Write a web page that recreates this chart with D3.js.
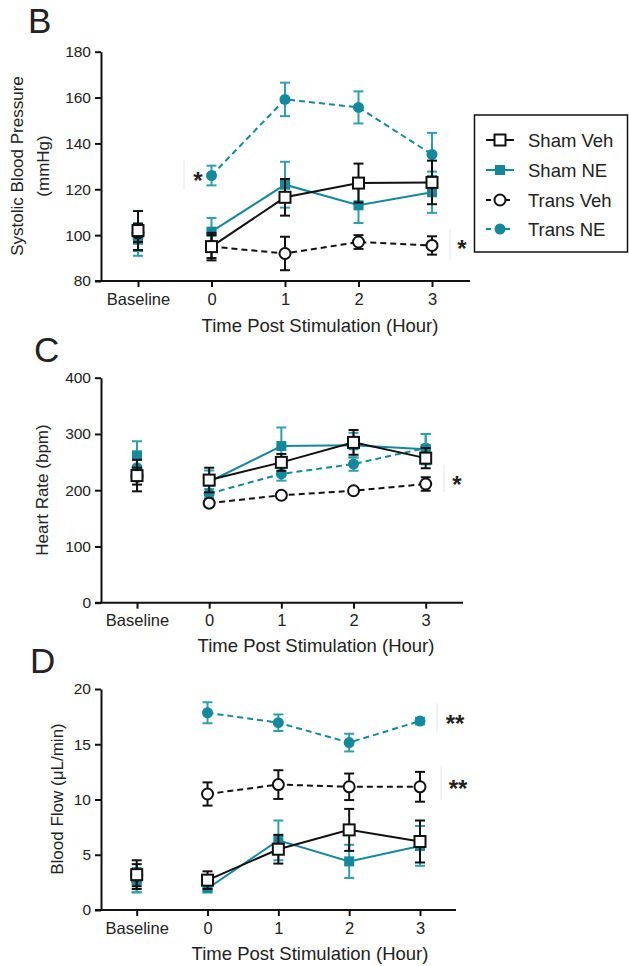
<!DOCTYPE html>
<html>
<head>
<meta charset="utf-8">
<script src="https://cdn.jsdelivr.net/npm/d3@7"></script>
<style>
  body { margin: 0; background: #fff; }
  text { font-family: "Liberation Sans", Arial, sans-serif; fill: #222; }
</style>
</head>
<body>
<div id="chart"></div>
<script>
// categories on the x axis
const timepoints = ["Baseline", "0", "1", "2", "3"];
const groups = ["Sham Veh", "Sham NE", "Trans Veh", "Trans NE"];

// panel B - systolic blood pressure (mmHg)
const bp_sham_veh = [102, 95, 116.5, 122.7, 123];
const bp_sham_veh_err = [8.5, 6, 8, 8.5, 9.5];
const bp_sham_ne = [98, 101.5, 122, 113, 118.7];
const bp_sham_ne_err = [7, 6, 10, 7.7, 9];
const bp_trans_veh = [101, 95, 92, 97, 95.5];
const bp_trans_veh_err = [4, 5, 7.3, 3, 4];
const bp_trans_ne = [99, 126, 159.2, 155.7, 135.2];
const bp_trans_ne_err = [6, 4.3, 7.3, 7, 9.4];
const bp_ticks = [80, 100, 120, 140, 160, 180];

// panel C - heart rate (bpm)
const hr_sham_veh = [226, 218, 249.5, 285, 257];
const hr_sham_veh_err = [28, 22, 15, 22, 18];
const hr_sham_ne = [262, 215, 278.5, 280, 273];
const hr_sham_ne_err = [25, 20, 33, 22, 27];
const hr_trans_veh = [225, 177, 191, 199, 211];
const hr_trans_veh_err = [15, 5, 5, 5, 12];
const hr_trans_ne = [240, 194, 229, 246.5, 275];
const hr_trans_ne_err = [15, 8, 12, 12, 25];
const hr_ticks = [0, 100, 200, 300, 400];

// panel D - blood flow (uL/min)
const bf_sham_veh = [3.2, 2.7, 5.5, 7.25, 6.2];
const bf_sham_veh_err = [1.3, 0.8, 1.3, 1.9, 1.9];
const bf_sham_ne = [2.7, 1.95, 6.3, 4.4, 5.8];
const bf_sham_ne_err = [1.1, 0.3, 1.8, 1.5, 1.8];
const bf_trans_veh = [3.15, 10.5, 11.35, 11.15, 11.15];
const bf_trans_veh_err = [1.0, 1.05, 1.3, 1.2, 1.35];
const bf_trans_ne = [2.6, 17.85, 16.95, 15.15, 17.1];
const bf_trans_ne_err = [1.0, 0.95, 0.75, 0.8, 0.3];
const bf_ticks = [0, 5, 10, 15, 20];

const black = "#111";
const teal = "#14899b";
const teal_err = "#2f9fae";

// how each group is drawn
const styles = {
  "Sham Veh": { color: black, err: black, dash: null, marker: "open_square" },
  "Sham NE": { color: teal, err: teal_err, dash: null, marker: "filled_square" },
  "Trans Veh": { color: black, err: black, dash: "6,4", marker: "open_circle" },
  "Trans NE": { color: teal, err: teal_err, dash: "6,4", marker: "filled_circle" }
};
// drawing order: teal first so black sits on top
const draw_order = ["Trans NE", "Sham NE", "Trans Veh", "Sham Veh"];

const svg = d3.select("#chart").append("svg")
  .attr("width", 629).attr("height", 966);

function draw_marker(g, kind, x, y, st) {
  if (kind === "open_square") {
    g.append("rect").attr("x", x - 5.5).attr("y", y - 5.5).attr("width", 11).attr("height", 11)
      .attr("fill", "#fff").attr("stroke", st.color).attr("stroke-width", 2);
  } else if (kind === "filled_square") {
    g.append("rect").attr("x", x - 5).attr("y", y - 5).attr("width", 10).attr("height", 10)
      .attr("fill", st.color);
  } else if (kind === "open_circle") {
    g.append("circle").attr("cx", x).attr("cy", y).attr("r", 5.5)
      .attr("fill", "#fff").attr("stroke", st.color).attr("stroke-width", 2);
  } else {
    g.append("circle").attr("cx", x).attr("cy", y).attr("r", 5.5).attr("fill", st.color);
  }
}

function draw_panel(p) {
  const x = d3.scalePoint().domain(timepoints).range(p.xrange);
  const y = d3.scaleLinear().domain(p.ydomain).range(p.yrange);
  const g = svg.append("g");

  // panel letter
  g.append("text").attr("x", p.letter[0]).attr("y", p.letter[1])
    .attr("font-size", 35).text(p.letter[2]);

  // faint significance brackets
  p.brackets.forEach(b => {
    g.append("line").attr("x1", b[0]).attr("x2", b[0]).attr("y1", b[1]).attr("y2", b[2])
      .attr("stroke", "#e6e6e6").attr("stroke-width", 1);
  });

  // y axis
  const yAxis = d3.axisLeft(y).tickValues(p.yticks).tickSize(6).tickPadding(4).tickSizeOuter(0);
  const ya = g.append("g").attr("transform", `translate(${p.xaxis_left + 6},0)`).call(yAxis);
  ya.select(".domain").attr("stroke", black).attr("stroke-width", 2);
  ya.selectAll(".tick line").attr("stroke", black).attr("stroke-width", 2);
  ya.selectAll(".tick text").attr("font-size", 15.5).attr("fill", "#222")
    .attr("font-family", "Liberation Sans, Arial, sans-serif");

  // x axis
  const xAxis = d3.axisBottom(x).tickSize(6).tickPadding(6).tickSizeOuter(0);
  const xa = g.append("g").attr("transform", `translate(0,${p.yrange[0]})`).call(xAxis);
  xa.select(".domain").remove();
  xa.append("line").attr("x1", p.xaxis_left).attr("x2", p.xaxis_right)
    .attr("stroke", black).attr("stroke-width", 2);
  xa.selectAll(".tick line").attr("stroke", black).attr("stroke-width", 2);
  xa.selectAll(".tick text").attr("font-size", 16.5).attr("fill", "#222")
    .attr("font-family", "Liberation Sans, Arial, sans-serif");

  // axis titles
  g.append("text").attr("x", p.xtitle[0]).attr("y", p.xtitle[1]).attr("text-anchor", "middle")
    .attr("font-size", 18.5).text("Time Post Stimulation (Hour)");
  p.ytitle.forEach(t => {
    g.append("text").attr("transform", `translate(${t[0]},${t[1]}) rotate(-90)`)
      .attr("text-anchor", "middle").attr("dominant-baseline", "central")
      .attr("font-size", 17).text(t[2]);
  });

  const line = d3.line().x(d => x(d.t)).y(d => y(d.v));

  draw_order.forEach(name => {
    const st = styles[name];
    const vals = p.series[name][0], errs = p.series[name][1];
    const pts = timepoints.map((t, i) => ({ t: t, v: vals[i], e: errs[i] }));
    const sg = g.append("g");
    // connecting line, not through baseline
    sg.append("path").datum(pts.slice(1)).attr("d", line)
      .attr("fill", "none").attr("stroke", st.color).attr("stroke-width", 2)
      .attr("stroke-dasharray", st.dash);
    // error bars
    pts.forEach(d => {
      const cx = x(d.t);
      sg.append("line").attr("x1", cx).attr("x2", cx).attr("y1", y(d.v - d.e)).attr("y2", y(d.v + d.e))
        .attr("stroke", st.err).attr("stroke-width", 2);
      [d.v - d.e, d.v + d.e].forEach(v => {
        sg.append("line").attr("x1", cx - 5).attr("x2", cx + 5).attr("y1", y(v)).attr("y2", y(v))
          .attr("stroke", st.err).attr("stroke-width", 2);
      });
    });
    pts.forEach(d => draw_marker(sg, st.marker, x(d.t), y(d.v), st));
  });

  // significance stars
  p.stars.forEach(s => {
    g.append("text").attr("x", s[0]).attr("y", s[1] + 12).attr("text-anchor", "middle")
      .attr("font-size", 24).attr("font-weight", "bold").text(s[2]);
  });
}

draw_panel({
  letter: [28, 33, "B"],
  xrange: [138, 432], xaxis_left: 95, xaxis_right: 470,
  ydomain: [80, 180], yrange: [281, 51.7], yticks: bp_ticks,
  xtitle: [320, 332],
  ytitle: [[17, 166, "Systolic Blood Pressure"], [43, 166, "(mmHg)"]],
  series: {
    "Sham Veh": [bp_sham_veh, bp_sham_veh_err],
    "Sham NE": [bp_sham_ne, bp_sham_ne_err],
    "Trans Veh": [bp_trans_veh, bp_trans_veh_err],
    "Trans NE": [bp_trans_ne, bp_trans_ne_err]
  },
  stars: [[198, 177, "*"], [462, 245, "*"]],
  brackets: [[184, 160, 190], [450, 230, 260]]
});

draw_panel({
  letter: [34, 362, "C"],
  xrange: [137, 425.7], xaxis_left: 95, xaxis_right: 463,
  ydomain: [0, 400], yrange: [602.7, 377.7], yticks: hr_ticks,
  xtitle: [316, 652],
  ytitle: [[42, 490, "Heart Rate (bpm)"]],
  series: {
    "Sham Veh": [hr_sham_veh, hr_sham_veh_err],
    "Sham NE": [hr_sham_ne, hr_sham_ne_err],
    "Trans Veh": [hr_trans_veh, hr_trans_veh_err],
    "Trans NE": [hr_trans_ne, hr_trans_ne_err]
  },
  stars: [[457, 481, "*"]],
  brackets: [[444, 465, 492]]
});

draw_panel({
  letter: [30, 673, "D"],
  xrange: [136.7, 420], xaxis_left: 95, xaxis_right: 456,
  ydomain: [0, 20], yrange: [910, 689], yticks: bf_ticks,
  xtitle: [310, 960],
  ytitle: [[57, 799, "Blood Flow (\u03bcL/min)"]],
  series: {
    "Sham Veh": [bf_sham_veh, bf_sham_veh_err],
    "Sham NE": [bf_sham_ne, bf_sham_ne_err],
    "Trans Veh": [bf_trans_veh, bf_trans_veh_err],
    "Trans NE": [bf_trans_ne, bf_trans_ne_err]
  },
  stars: [[455, 720, "**"], [458, 785, "**"]],
  brackets: [[437, 703, 732], [441, 766, 800]]
});

// legend
const legend = svg.append("g");
legend.append("rect").attr("x", 474.5).attr("y", 115).attr("width", 153).attr("height", 137)
  .attr("fill", "#fff").attr("stroke", black).attr("stroke-width", 1.5);
const legend_y = [140, 170, 200, 229];
groups.forEach((name, i) => {
  const st = styles[name];
  const ly = legend_y[i];
  const lg = legend.append("g");
  lg.append("line").attr("x1", 486).attr("x2", 514).attr("y1", ly).attr("y2", ly)
    .attr("stroke", st.color).attr("stroke-width", 2).attr("stroke-dasharray", st.dash ? "5,4.5" : null);
  draw_marker(lg, st.marker, 500, ly, st);
  lg.append("text").attr("x", 528).attr("y", ly).attr("dominant-baseline", "central")
    .attr("font-size", 18.5).text(name);
});
</script>
</body>
</html>
